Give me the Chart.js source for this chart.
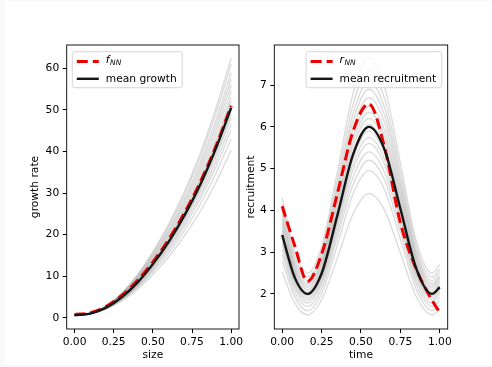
<!DOCTYPE html>
<html>
<head>
<meta charset="utf-8">
<script src="https://cdn.jsdelivr.net/npm/chart.js@4.4.0/dist/chart.umd.min.js"></script>
<style>
  html, body { margin: 0; padding: 0; background: #f9f9f9; }
  #fig { position: absolute; left: 5px; top: 1px; width: 487px; height: 364px; background: #fff; }
  canvas { position: absolute; top: 0; }
</style>
</head>
<body>
<div id="fig"></div>
<canvas id="c1" width="256" height="367" style="left:0px"></canvas>
<canvas id="c2" width="252" height="367" style="left:240px"></canvas>
<script>
// ---------------- data ----------------
const sizeX = [0, 0.1, 0.2, 0.3, 0.4, 0.5, 0.6, 0.7, 0.8, 0.9, 1.0];
const growthMean = [0.6, 1.0, 2.4, 4.9, 8.4, 12.9, 18.2, 24.5, 31.8, 40.5, 50.5];
const growthNN   = [0.8, 1.2, 2.7, 5.3, 8.9, 13.4, 18.8, 25.1, 32.4, 41.0, 51.0];
const growthSamples = [
  [0.6,0.92,2.03,4.02,6.81,10.39,14.61,19.62,25.44,32.36,40.32],
  [0.6,0.94,2.13,4.26,7.23,11.06,15.56,20.92,27.12,34.52,43.02],
  [0.6,0.96,2.20,4.43,7.54,11.55,16.26,21.87,28.37,36.11,45.01],
  [0.6,0.97,2.26,4.56,7.78,11.92,16.79,22.59,29.30,37.31,46.51],
  [0.6,0.98,2.31,4.69,8.01,12.29,17.32,23.31,30.24,38.51,48.01],
  [0.6,0.99,2.35,4.77,8.17,12.53,17.67,23.78,30.86,39.30,49.00],
  [0.6,1.00,2.38,4.86,8.32,12.78,18.02,24.26,31.49,40.10,50.00],
  [0.6,1.00,2.42,4.94,8.48,13.02,18.38,24.74,32.11,40.90,51.00],
  [0.6,1.01,2.45,5.03,8.63,13.27,18.73,25.22,32.74,41.70,52.00],
  [0.6,1.02,2.49,5.12,8.79,13.52,19.08,25.70,33.36,42.50,53.00],
  [0.6,1.03,2.54,5.24,9.02,13.88,19.61,26.41,34.30,43.69,54.49],
  [0.6,1.04,2.60,5.37,9.26,14.25,20.14,27.13,35.23,44.89,55.99],
  [0.6,1.06,2.65,5.50,9.49,14.62,20.66,27.85,36.17,46.09,57.49],
  [0.6,1.07,2.71,5.63,9.73,14.99,21.19,28.56,37.10,47.28,58.98],
  [0.6,1.08,2.78,5.80,10.04,15.48,21.90,29.52,38.35,48.88,60.98],
  [0.6,1.10,2.83,5.93,10.27,15.85,22.42,30.24,39.29,50.08,62.48]
];

const timeX = [0, 0.08, 0.16, 0.25, 0.35, 0.45, 0.55, 0.65, 0.75, 0.85, 0.95, 1.0];
const recruitMean = [3.41, 2.39, 2.00, 2.49, 3.88, 5.34, 6.00, 5.45, 4.04, 2.61, 2.00, 2.16];
const recruitNN   = [4.10, 3.15, 2.30, 2.95, 4.40, 5.90, 6.55, 5.50, 3.70, 2.60, 1.85, 1.55];
const recruitSamples = [
  [2.52,1.78,1.50,1.86,2.86,3.92,4.40,4.00,2.98,1.94,1.50,1.61],
  [2.78,1.93,1.60,2.01,3.17,4.40,4.95,4.49,3.31,2.11,1.60,1.73],
  [2.94,2.04,1.70,2.13,3.35,4.62,5.20,4.72,3.49,2.23,1.70,1.84],
  [3.06,2.14,1.78,2.23,3.48,4.80,5.40,4.91,3.63,2.33,1.78,1.92],
  [3.17,2.22,1.85,2.31,3.61,4.98,5.60,5.09,3.76,2.42,1.85,2.00],
  [3.26,2.28,1.90,2.37,3.71,5.12,5.75,5.22,3.86,2.48,1.90,2.05],
  [3.34,2.34,1.95,2.44,3.81,5.25,5.90,5.36,3.96,2.55,1.95,2.10],
  [3.43,2.40,2.00,2.50,3.90,5.38,6.05,5.50,4.07,2.61,2.00,2.16],
  [3.52,2.46,2.05,2.56,4.00,5.52,6.20,5.63,4.17,2.68,2.05,2.21],
  [3.60,2.52,2.10,2.62,4.10,5.65,6.35,5.77,4.27,2.74,2.10,2.27],
  [3.69,2.58,2.15,2.69,4.20,5.78,6.50,5.91,4.37,2.81,2.15,2.32],
  [3.79,2.64,2.20,2.75,4.32,5.96,6.70,6.09,4.50,2.88,2.20,2.38],
  [3.89,2.71,2.25,2.82,4.44,6.14,6.90,6.27,4.62,2.95,2.25,2.43],
  [4.01,2.79,2.32,2.91,4.57,6.31,7.10,6.45,4.76,3.04,2.32,2.51],
  [4.15,2.89,2.40,3.01,4.73,6.54,7.35,6.67,4.93,3.15,2.40,2.59],
  [4.32,3.00,2.50,3.13,4.92,6.80,7.65,6.95,5.13,3.28,2.50,2.70]
];

const sizeTicks = [0, 0.25, 0.5, 0.75, 1.0];
const growthTicks = [0, 10, 20, 30, 40, 50, 60];
const timeTicks = [0, 0.25, 0.5, 0.75, 1.0];
const recruitTicks = [2, 3, 4, 5, 6, 7];

// ---------------- rendering ----------------
const FONT = 'DejaVu Sans';
const FS = 10.7;
Chart.defaults.font.family = FONT;
Chart.defaults.font.size = FS;
Chart.defaults.color = '#000';

function pts(xs, ys) { return xs.map((x, i) => ({ x: x, y: ys[i] })); }

function roundRect(ctx, x, y, w, h, r) {
  ctx.beginPath();
  ctx.moveTo(x + r, y);
  ctx.arcTo(x + w, y, x + w, y + h, r);
  ctx.arcTo(x + w, y + h, x, y + h, r);
  ctx.arcTo(x, y + h, x, y, r);
  ctx.arcTo(x, y, x + w, y, r);
  ctx.closePath();
}

function drawLabel(ctx, label, x, y) {
  const parts = label.split('_');
  ctx.textBaseline = 'middle';
  ctx.textAlign = 'left';
  if (parts.length === 2) {
    ctx.font = 'italic ' + FS + 'px "' + FONT + '"';
    ctx.fillText(parts[0], x, y - 1);
    const w = ctx.measureText(parts[0]).width;
    ctx.font = 'italic ' + (FS * 0.7) + 'px "' + FONT + '"';
    ctx.fillText(parts[1], x + w + 0.5, y + 1.5);
    return w + 0.5 + ctx.measureText(parts[1]).width;
  }
  ctx.font = FS + 'px "' + FONT + '"';
  ctx.fillText(label, x, y);
  return ctx.measureText(label).width;
}

const framePlugin = {
  id: 'frame',
  afterDatasetsDraw(chart) {
    const { ctx, chartArea: a } = chart;
    ctx.save();
    ctx.strokeStyle = '#000';
    ctx.lineWidth = 0.9;
    ctx.strokeRect(a.left, a.top, a.right - a.left, a.bottom - a.top);
    ctx.restore();
  }
};

const legendPlugin = {
  id: 'mplLegend',
  afterDraw(chart, args, opts) {
    const { ctx, chartArea: a } = chart;
    const items = chart.data.datasets.filter(d => d.inLegend);
    items.sort((p, q) => p.legendIndex - q.legendIndex);
    ctx.save();
    let maxW = 0;
    items.forEach(d => {
      const parts = d.label.split('_');
      if (parts.length === 2) {
        ctx.font = 'italic ' + FS + 'px "' + FONT + '"';
        let w = ctx.measureText(parts[0]).width + 0.5;
        ctx.font = 'italic ' + (FS * 0.7) + 'px "' + FONT + '"';
        w += ctx.measureText(parts[1]).width;
        maxW = Math.max(maxW, w);
      } else {
        ctx.font = FS + 'px "' + FONT + '"';
        maxW = Math.max(maxW, ctx.measureText(d.label).width);
      }
    });
    const bw = 33.5 + maxW + 5.5;
    const bh = 36;
    const bx = opts.side === 'right' ? a.right - 6 - bw : a.left + 5.6;
    const by = a.top + 6.7;
    roundRect(ctx, bx, by, bw, bh, 2.5);
    ctx.fillStyle = 'rgba(255,255,255,0.8)';
    ctx.fill();
    ctx.strokeStyle = '#d6d6d6';
    ctx.lineWidth = 1;
    ctx.stroke();
    items.forEach((d, i) => {
      const y = by + 9.8 + i * 17.3;
      ctx.beginPath();
      ctx.strokeStyle = d.borderColor;
      ctx.lineWidth = d.borderWidth;
      ctx.setLineDash(d.borderDash || []);
      ctx.lineCap = 'butt';
      ctx.moveTo(bx + 4.5, y);
      ctx.lineTo(bx + 26.5, y);
      ctx.stroke();
      ctx.setLineDash([]);
      ctx.fillStyle = '#000';
      drawLabel(ctx, d.label, bx + 33.5, y);
    });
    ctx.restore();
  }
};

function axisX(ticksArr, title, fitH) {
  return {
    type: 'linear', min: -0.05, max: 1.05,
    afterBuildTicks: s => { s.ticks = ticksArr.map(v => ({ value: v })); },
    afterFit: s => { s.height = fitH; },
    ticks: { callback: v => Number(v).toFixed(2), padding: 3, maxRotation: 0, autoSkip: false, color: '#000' },
    grid: { display: true, drawOnChartArea: false, drawTicks: true, tickLength: 4, color: '#000', lineWidth: 1 },
    border: { display: false },
    title: { display: true, text: title, color: '#000', padding: { top: 0, bottom: 5.6 } }
  };
}
function axisY(min, max, ticksArr, title, fitW, titlePad) {
  return {
    type: 'linear', min: min, max: max,
    afterBuildTicks: s => { s.ticks = ticksArr.map(v => ({ value: v })); },
    afterFit: s => { s.width = fitW; },
    ticks: { callback: v => String(v), padding: 3.5, autoSkip: false, color: '#000' },
    grid: { display: true, drawOnChartArea: false, drawTicks: true, tickLength: 4, color: '#000', lineWidth: 1 },
    border: { display: false },
    title: { display: true, text: title, color: '#000', padding: { top: titlePad, bottom: 0 } }
  };
}

function buildDatasets(xs, mean, nn, samples, meanLabel, nnLabel) {
  const ds = [];
  ds.push({ label: meanLabel, data: pts(xs, mean), borderColor: '#151515', borderWidth: 2.4,
            order: 0, inLegend: true, legendIndex: 1 });
  ds.push({ label: nnLabel, data: pts(xs, nn), borderColor: '#ee0000', borderWidth: 3,
            borderDash: [11, 5], order: 1, inLegend: true, legendIndex: 0 });
  samples.forEach((s, i) => {
    ds.push({ label: 'sample ' + i, data: pts(xs, s), borderColor: 'rgba(70,70,70,0.2)',
              borderWidth: 1.3, order: 2 + i });
  });
  return ds;
}

const common = {
  responsive: false, animation: false, devicePixelRatio: 1, events: [],
  elements: { point: { radius: 0 }, line: { cubicInterpolationMode: 'monotone', fill: false } },
};

new Chart(document.getElementById('c1'), {
  type: 'line',
  data: { datasets: buildDatasets(sizeX, growthMean, growthNN, growthSamples, 'mean growth', 'f_NN') },
  options: Object.assign({}, common, {
    layout: { padding: { left: 0, right: 17, top: 45, bottom: 0 } },
    plugins: { legend: { display: false }, tooltip: { enabled: false }, mplLegend: { side: 'left' } },
    scales: {
      x: axisX(sizeTicks, 'size', 38),
      y: axisY(-2.7, 65.6, growthTicks, 'growth rate', 66.7, 28.6)
    }
  }),
  plugins: [framePlugin, legendPlugin]
});

new Chart(document.getElementById('c2'), {
  type: 'line',
  data: { datasets: buildDatasets(timeX, recruitMean, recruitNN, recruitSamples, 'mean recruitment', 'r_NN') },
  options: Object.assign({}, common, {
    layout: { padding: { left: 0, right: 44.3, top: 45, bottom: 0 } },
    plugins: { legend: { display: false }, tooltip: { enabled: false }, mplLegend: { side: 'right' } },
    scales: {
      x: axisX(timeTicks, 'time', 38),
      y: axisY(1.16, 7.96, recruitTicks, 'recruitment', 34.3, 5.3)
    }
  }),
  plugins: [framePlugin, legendPlugin]
});
</script>
</body>
</html>
